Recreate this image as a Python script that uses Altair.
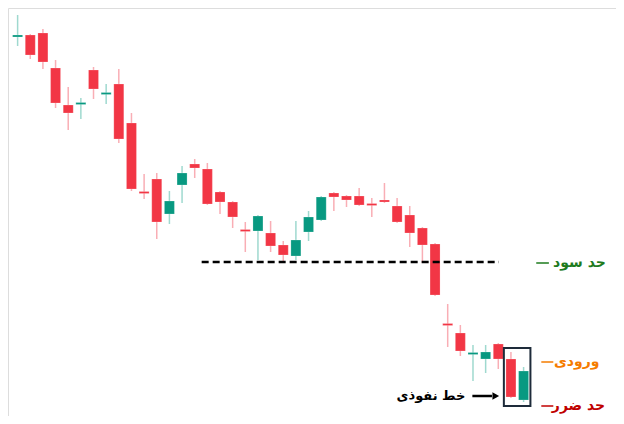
import altair as alt
import pandas as pd

idx = list(range(41))
opens  = [463,465,467,432,395,395.5,430,405.5,416,377,308.5,321,286,315,336,331,308,298,270.5,269,267,255,244,268,280,307,304,304,296.5,300,294,285,272,256,176.5,167,145.5,141,156,141,100]
highs  = [485,466,471,440,413,402,433,416,431,387,326,327,309,334,341,337,309,299,278,285,279,259,279,289,304,308,305,312,302,317,302,294,273,257,196,175,155,155,157,148,133]
lows   = [454,441,431,392,370,381,401,396,357,309,301,261,276,297,322,295,286,272,248,240,248,237,240,259,279,289,293,294,283,297,277,253,237,204,153,144,119,127,131,102,98]
closes = [465,445,438,397,387,397.5,411,407.5,361,311,306.5,278,299,327,332,296,298,283,268.5,284,254,245,260,283,303,303,300,295,294.5,298,278,267,255,205,174.5,149,147.5,148,141,103,129]

labels = ["حد سود", "ورودی", "حد ضرر"]
label_levels = [237, 138, 94]
label_colors = ["#1e7b1e", "#f57c00", "#c00000"]
label_right = [46.5, 46.0, 46.45]
dash_x = [41.0, 41.4, 41.4]
dash_x2 = [42.0, 42.35, 42.35]

support_level = 238
support_from, support_to = 14.55, 38.05
box = dict(x=38.44, x2=40.54, y=152, y2=94)
arrow_text = "خط نفوذی"
arrow_level = 104

df = pd.DataFrame(dict(i=idx, open=opens, high=highs, low=lows, close=closes))
up = [c >= o for o, c in zip(opens, closes)]
df["bc"] = ["#089981" if u else "#f23645" for u in up]
df["wc"] = ["#9fd9cf" if u else "#f9aeb5" for u in up]

xs = alt.Scale(domain=[-0.365, 46.91], nice=False, zero=False)
ys = alt.Scale(domain=[84, 492], nice=False, zero=False)
X = lambda f: alt.X(f, type="quantitative", scale=xs, axis=None)
Y = lambda f: alt.Y(f, type="quantitative", scale=ys, axis=None)

base = alt.Chart(df)
wicks = base.mark_rule(strokeWidth=1.5).encode(x=X("i"), y=Y("low"), y2="high",
                                               color=alt.Color("wc:N", scale=None))
bodies = base.mark_bar(size=10, stroke="#ffffff", strokeOpacity=0.35, strokeWidth=0.6).encode(
    x=X("i"), y=Y("open"), y2="close", color=alt.Color("bc:N", scale=None))

sup_df = pd.DataFrame(dict(x=[support_from], x2=[support_to], y=[support_level]))
support = alt.Chart(sup_df).mark_rule(color="black", strokeWidth=2.5, strokeDash=[7, 4]).encode(
    x=X("x"), x2="x2", y=Y("y"))

box_df = pd.DataFrame([box])
boxm = alt.Chart(box_df).mark_rect(fill=None, stroke="#1e2b3a", strokeWidth=2).encode(
    x=X("x"), x2="x2", y=Y("y"), y2="y2")

lab_df = pd.DataFrame(dict(t=labels, y=label_levels, c=label_colors, xr=label_right, dx=dash_x, dx2=dash_x2))
lab_text = alt.Chart(lab_df).mark_text(align="right", baseline="middle", font="DejaVu Sans",
                                       fontWeight="bold", fontSize=14).encode(
    x=X("xr"), y=Y("y"), text="t:N", color=alt.Color("c:N", scale=None))
lab_dash = alt.Chart(lab_df).mark_rule(strokeWidth=1.5).encode(
    x=X("dx"), x2="dx2", y=Y("y"), color=alt.Color("c:N", scale=None))

arr_df = pd.DataFrame(dict(x=[35.95], x2=[37.5], y=[arrow_level], xh=[37.8], xt=[35.4], t=[arrow_text]))
arr_line = alt.Chart(arr_df).mark_rule(color="black", strokeWidth=2.5).encode(x=X("x"), x2="x2", y=Y("y"))
arr_head = alt.Chart(arr_df).mark_point(shape="triangle-right", filled=True, color="black", size=60, opacity=1).encode(
    x=X("xh"), y=Y("y"))
arr_text = alt.Chart(arr_df).mark_text(align="right", baseline="middle", font="DejaVu Sans",
                                       fontWeight="bold", fontSize=13, color="black").encode(
    x=X("xt"), y=Y("y"), text="t:N")

chart = alt.layer(wicks, bodies, support, boxm, lab_dash, lab_text, arr_line, arr_head, arr_text).properties(
    width=608, height=408, padding=0, autosize=alt.AutoSizeParams(type="none")
).configure_view(stroke="transparent", strokeWidth=0).configure(background="white")

chart.save("out.html", embed_options={"renderer": "svg", "actions": False})
